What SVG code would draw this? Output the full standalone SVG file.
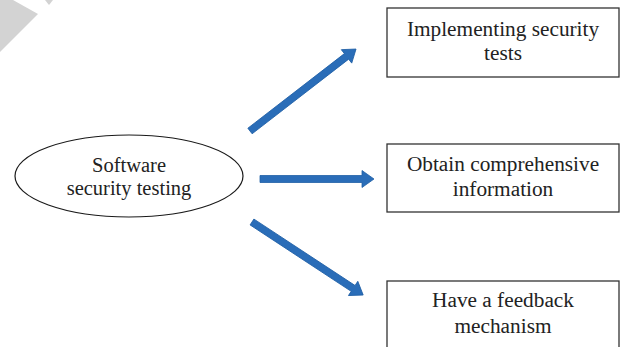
<svg xmlns="http://www.w3.org/2000/svg" width="624" height="347" viewBox="0 0 624 347">
  <style>
    .box { fill: #ffffff; stroke: #333333; stroke-width: 1.3; }
    .oval { fill: #ffffff; stroke: #1a1a1a; stroke-width: 1.2; }
    .label { font-family: "Liberation Serif", "DejaVu Serif", serif; font-size: 20.5px; fill: #222222; text-anchor: middle; }
    .box-label { font-size: 21.3px; }
    .arrow { fill: #2a6db8; stroke: #1f5fa6; stroke-width: 0.8; }
    .mark { fill: #d3d3d3; }
  </style>

  <!-- corner mark -->
  <polygon class="mark" points="0,0 13,0 38,14 0,52"/>
  <polygon class="mark" points="45,0 53,0 49,5"/>

  <!-- connectors -->
  <g id="connectors">
    <!-- block arrow drawn along +x from the tail, then rotated into place -->
    <path class="arrow" transform="translate(250,131) rotate(-37.7)" d="M0,-3.5 H122 V-8.5 L134,0 L122,8.5 V3.5 H0 Z"/>
    <path class="arrow" transform="translate(260,179)" d="M0,-3.5 H102 V-8.5 L114,0 L102,8.5 V3.5 H0 Z"/>
    <path class="arrow" transform="translate(252,222) rotate(33.3)" d="M0,-3.5 H121 V-8.5 L133,0 L121,8.5 V3.5 H0 Z"/>
  </g>

  <g id="node-software-security-testing">
    <ellipse class="oval" cx="129" cy="176" rx="114" ry="41"/>
    <text class="label" x="129" y="172">Software</text>
    <text class="label" x="129" y="195">security testing</text>
  </g>

  <g id="node-implementing-security-tests">
    <rect class="box" x="387" y="8" width="232" height="69"/>
    <text class="label box-label" x="503" y="36">Implementing security</text>
    <text class="label box-label" x="503" y="60">tests</text>
  </g>

  <g id="node-obtain-comprehensive-information">
    <rect class="box" x="387" y="144" width="232" height="68"/>
    <text class="label box-label" x="503" y="171">Obtain comprehensive</text>
    <text class="label box-label" x="503" y="196">information</text>
  </g>

  <g id="node-have-a-feedback-mechanism">
    <rect class="box" x="387" y="281" width="232" height="70"/>
    <text class="label box-label" x="503" y="307">Have a feedback</text>
    <text class="label box-label" x="503" y="333">mechanism</text>
  </g>
</svg>
